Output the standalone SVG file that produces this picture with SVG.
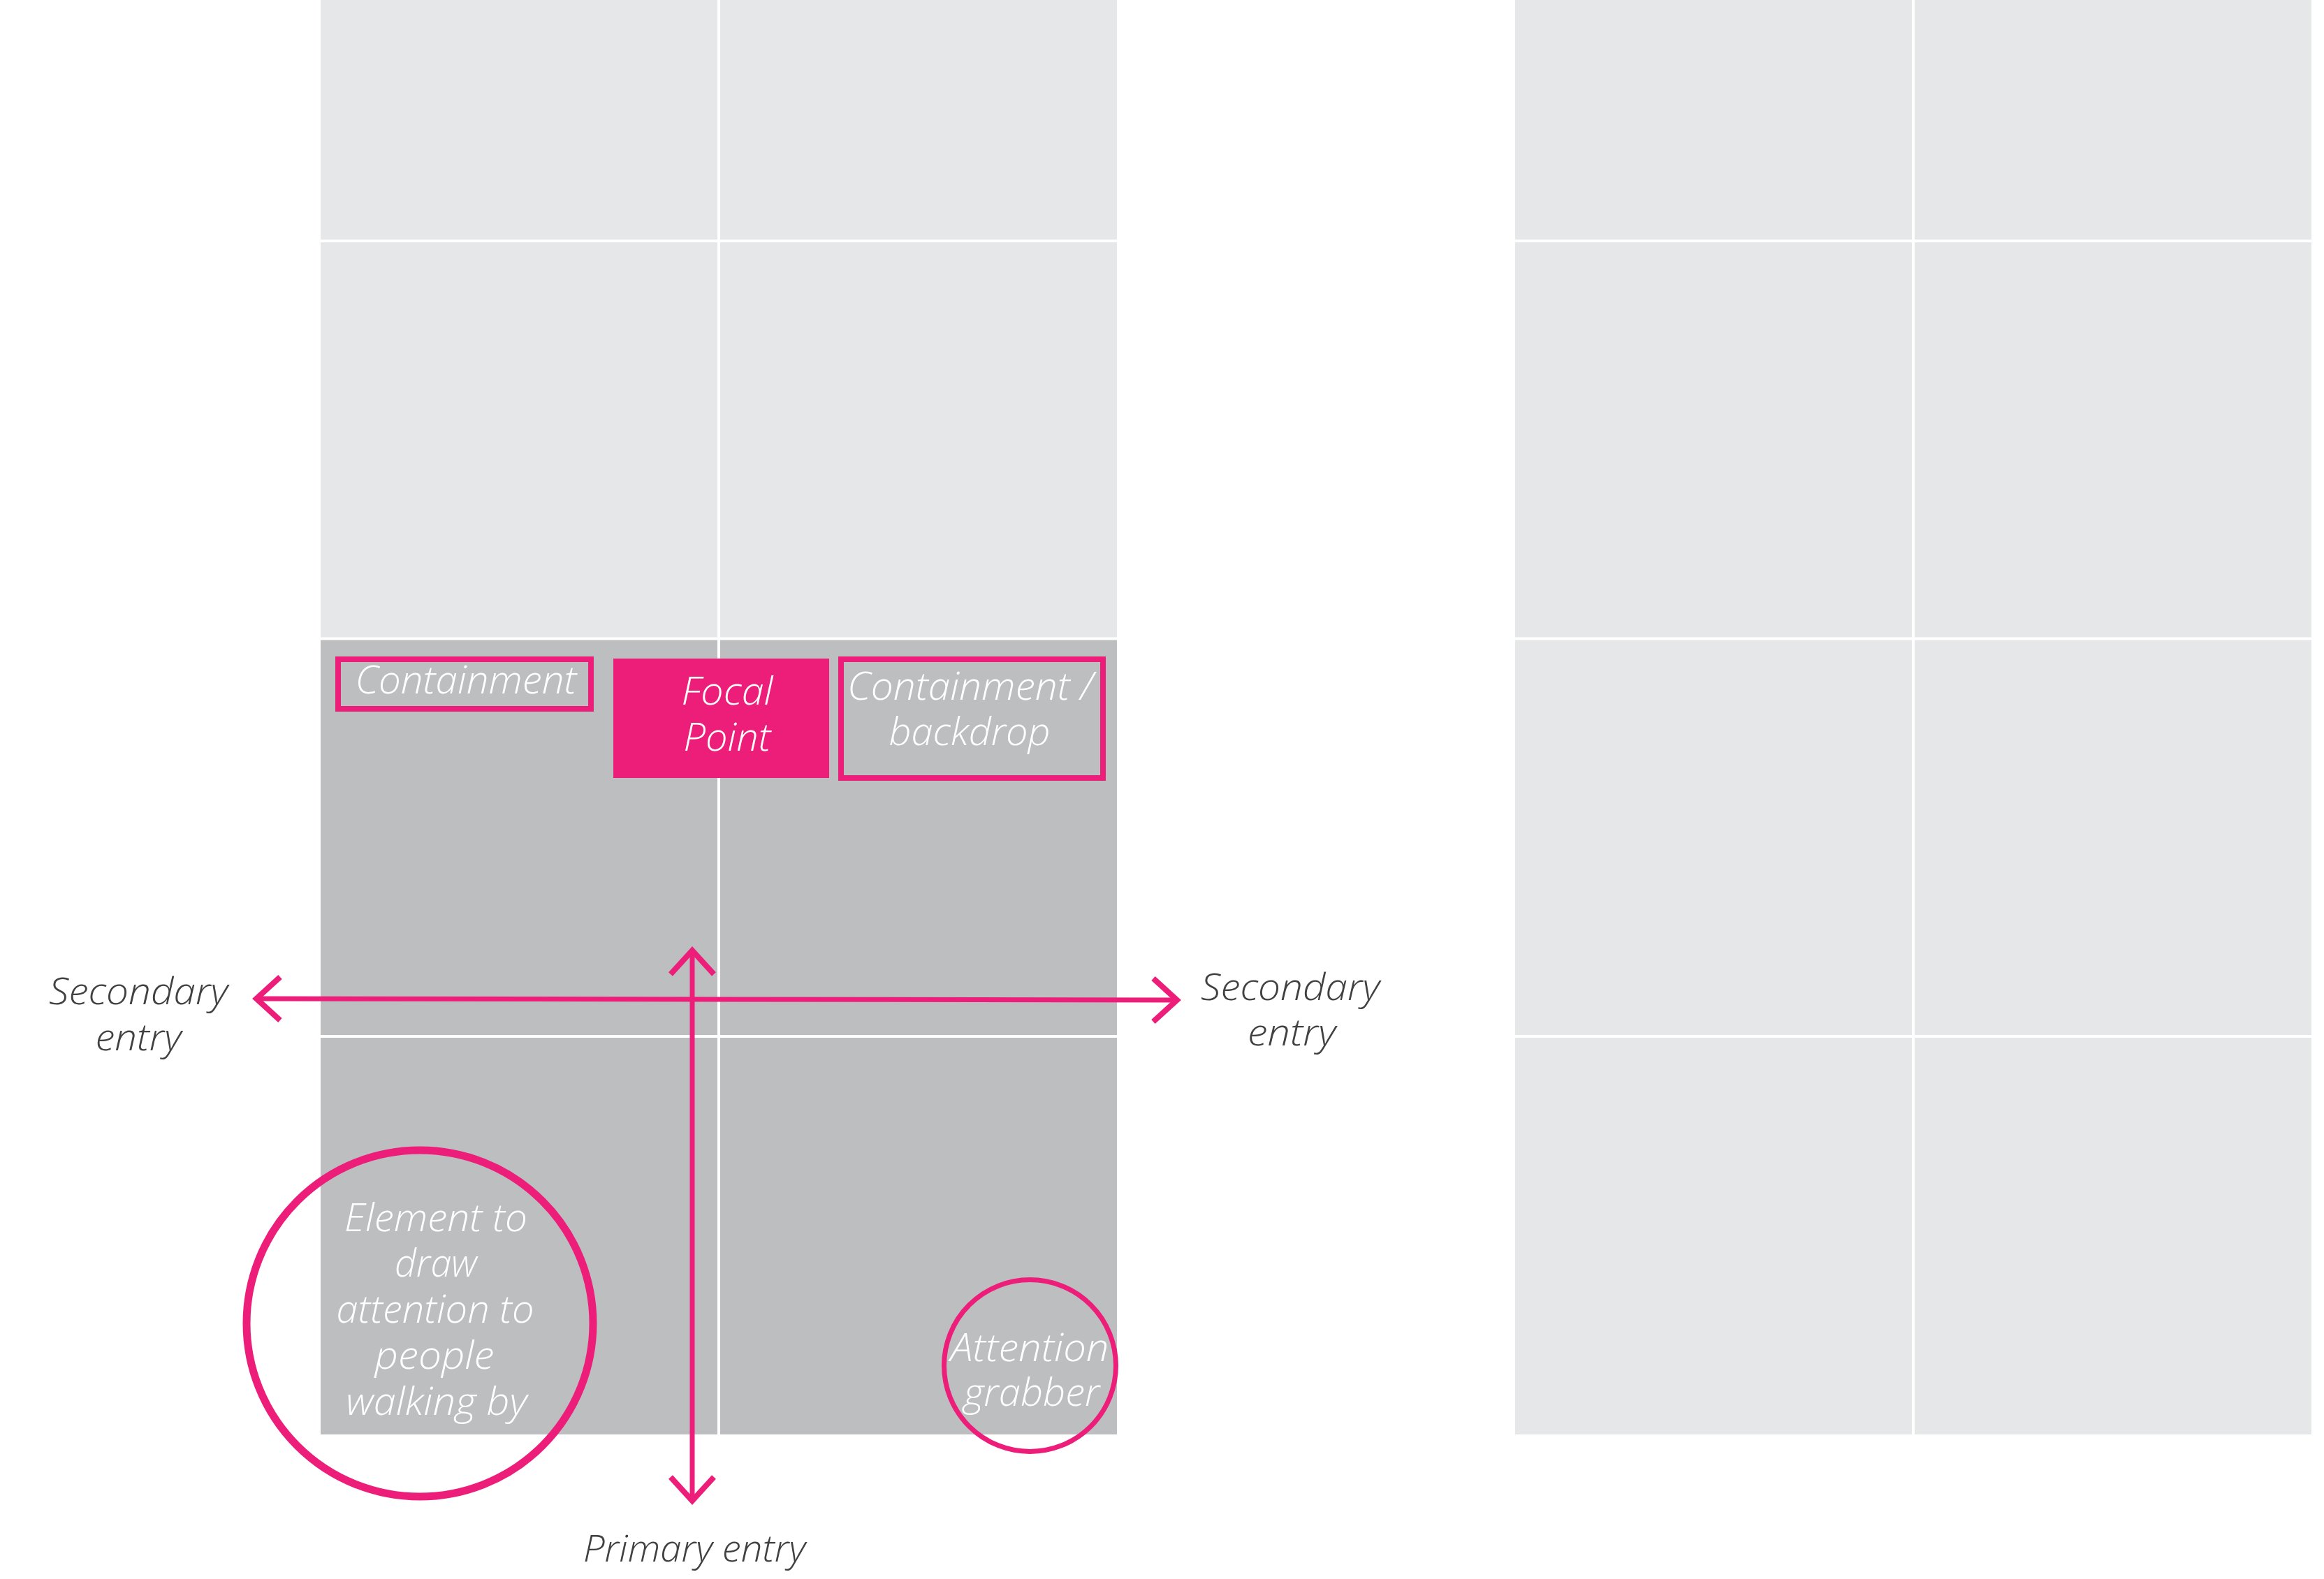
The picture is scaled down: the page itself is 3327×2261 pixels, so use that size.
<svg xmlns="http://www.w3.org/2000/svg" width="3327" height="2261" viewBox="0 0 3327 2261">
<defs>
<style>
.light{fill:#e6e7e8}
.dark{fill:#bcbec0}
.gl{stroke:#ffffff;stroke-width:4;fill:none}
.pk{stroke:#ed1e79;fill:none}
.wt{font-family:"Open Sans","Lato","Liberation Sans",sans-serif;font-style:italic;font-weight:300;font-size:56px;fill:#ffffff;text-anchor:middle}
.dt{font-family:"Open Sans","Lato","Liberation Sans",sans-serif;font-style:italic;font-weight:300;font-size:54px;fill:#414042;text-anchor:middle}
.arrow{stroke:#ed1e79;stroke-width:7;fill:none}
</style>
<marker id="chev" markerUnits="userSpaceOnUse" markerWidth="80" markerHeight="80" viewBox="-40 -40 80 80" refX="0" refY="0" orient="auto-start-reverse" overflow="visible">
<path d="M -34,-31 L 0,0 L -34,31" fill="none" stroke="#ed1e79" stroke-width="8" stroke-linejoin="miter"/>
</marker>
</defs>
<rect width="3327" height="2261" fill="#ffffff"/>

<g id="left-grid">
<rect class="light" x="459" y="0" width="1140" height="914.5"/>
<rect class="dark" x="459" y="914.5" width="1140" height="1139.5"/>
<line class="gl" x1="1029" y1="0" x2="1029" y2="2054"/>
<line class="gl" x1="459" y1="345" x2="1599" y2="345"/>
<line class="gl" x1="459" y1="914.5" x2="1599" y2="914.5"/>
<line class="gl" x1="459" y1="1484" x2="1599" y2="1484"/>
</g>

<g id="right-grid">
<rect class="light" x="2169" y="0" width="1140" height="2054"/>
<line class="gl" x1="2739" y1="0" x2="2739" y2="2054"/>
<line class="gl" x1="2169" y1="345" x2="3309" y2="345"/>
<line class="gl" x1="2169" y1="914.5" x2="3309" y2="914.5"/>
<line class="gl" x1="2169" y1="1484" x2="3309" y2="1484"/>
</g>

<g id="containment">
<rect class="pk" x="484" y="944" width="362" height="71" stroke-width="8"/>
<text class="wt" x="667" y="993" textLength="317" lengthAdjust="spacingAndGlyphs">Containment</text>
</g>

<g id="focal-point">
<rect x="878" y="943" width="309" height="171" fill="#ed1e79"/>
<text class="wt" x="1041" y="1009" textLength="131" lengthAdjust="spacingAndGlyphs">Focal</text>
<text class="wt" x="1041" y="1075" textLength="125" lengthAdjust="spacingAndGlyphs">Point</text>
</g>

<g id="containment-backdrop">
<rect class="pk" x="1204" y="944" width="375" height="170" stroke-width="8"/>
<text class="wt" x="1389" y="1002" textLength="352" lengthAdjust="spacingAndGlyphs">Containment /</text>
<text class="wt" x="1388" y="1067" textLength="231" lengthAdjust="spacingAndGlyphs">backdrop</text>
</g>

<g id="connectors">
<line class="arrow" x1="367" y1="1430" x2="1685" y2="1432" marker-start="url(#chev)" marker-end="url(#chev)"/>
<line class="arrow" x1="991" y1="1361" x2="991" y2="2149" marker-start="url(#chev)" marker-end="url(#chev)"/>
</g>

<g id="secondary-entry-left">
<text class="dt" x="198" y="1438" textLength="256" lengthAdjust="spacingAndGlyphs">Secondary</text>
<text class="dt" x="198" y="1504" textLength="123" lengthAdjust="spacingAndGlyphs">entry</text>
</g>

<g id="secondary-entry-right">
<text class="dt" x="1847" y="1432" textLength="256" lengthAdjust="spacingAndGlyphs">Secondary</text>
<text class="dt" x="1849" y="1497" textLength="126" lengthAdjust="spacingAndGlyphs">entry</text>
</g>

<g id="element-circle">
<circle class="pk" cx="601" cy="1895" r="248" stroke-width="11"/>
<text class="wt" x="624" y="1763" textLength="262" lengthAdjust="spacingAndGlyphs">Element to</text>
<text class="wt" x="624" y="1828" textLength="118" lengthAdjust="spacingAndGlyphs">draw</text>
<text class="wt" x="623" y="1894" textLength="283" lengthAdjust="spacingAndGlyphs">attention to</text>
<text class="wt" x="622" y="1960" textLength="171" lengthAdjust="spacingAndGlyphs">people</text>
<text class="wt" x="625" y="2026" textLength="259" lengthAdjust="spacingAndGlyphs">walking by</text>
</g>

<g id="attention-grabber">
<circle class="pk" cx="1474.5" cy="1955.5" r="123" stroke-width="7"/>
<text class="wt" x="1474" y="1949" textLength="227" lengthAdjust="spacingAndGlyphs">Attention</text>
<text class="wt" x="1477" y="2013" textLength="195" lengthAdjust="spacingAndGlyphs">grabber</text>
</g>

<g id="primary-entry">
<text class="dt" x="994" y="2236" textLength="318" lengthAdjust="spacingAndGlyphs">Primary entry</text>
</g>
</svg>
